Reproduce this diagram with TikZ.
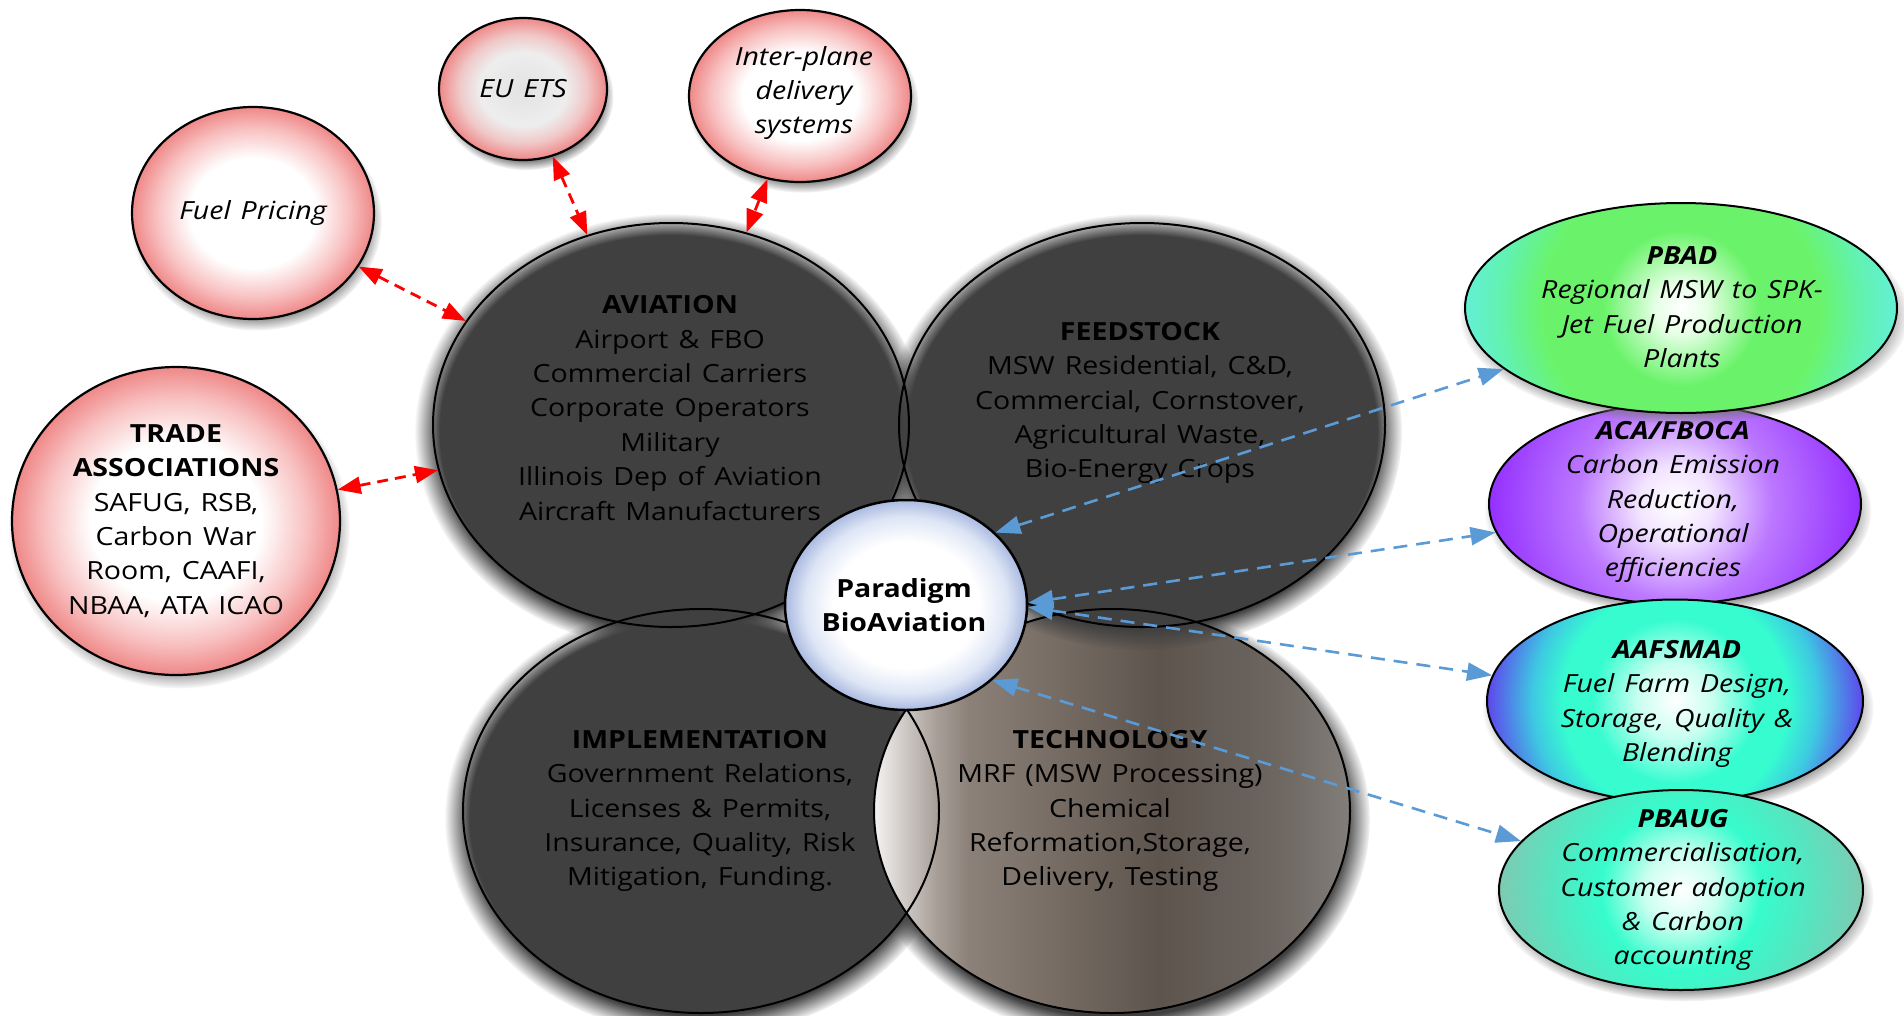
\documentclass[tikz,border=0pt]{standalone}
\usepackage{fontspec}
\setmainfont{Open Sans}[FakeStretch=1.14, WordSpace=1.35]
\usetikzlibrary{shadows,fadings,arrows.meta,shapes.geometric}

\definecolor{gfill}{HTML}{404040}
\definecolor{pinkmid}{HTML}{F8C0C0}
\definecolor{pinkedge}{HTML}{EF8888}
\definecolor{euc}{HTML}{E2E2E2}
\definecolor{eumid}{HTML}{F0C8C8}
\definecolor{parmid}{HTML}{DDE5F5}
\definecolor{paredge}{HTML}{A9B9E0}
\definecolor{grA}{HTML}{E6FFE6}
\definecolor{grB}{HTML}{6AF36A}
\definecolor{grC}{HTML}{62F2B0}
\definecolor{grD}{HTML}{62F0D6}
\definecolor{puA}{HTML}{F2E4FF}
\definecolor{puB}{HTML}{BC78FF}
\definecolor{puC}{HTML}{9430FF}
\definecolor{aqA}{HTML}{C8FFF0}
\definecolor{aqB}{HTML}{36FCD0}
\definecolor{aqC}{HTML}{3EC8E2}
\definecolor{aqD}{HTML}{5E46EC}
\definecolor{tqA}{HTML}{CCFFF0}
\definecolor{tqB}{HTML}{36FCCC}
\definecolor{tqC}{HTML}{52E8C2}
\definecolor{tqD}{HTML}{7ECAB2}
\definecolor{tcA}{HTML}{F4F2F2}
\definecolor{tcB}{HTML}{A89F98}
\definecolor{tcC}{HTML}{8B8179}
\definecolor{tcD}{HTML}{746A62}
\definecolor{tcE}{HTML}{5D544D}
\definecolor{tcF}{HTML}{6C6560}
\definecolor{tcG}{HTML}{827E7A}
\definecolor{bluearr}{HTML}{5B9BD5}
\definecolor{redarr}{HTML}{FF0000}

\pgfdeclareradialshading{pinkball}{\pgfpoint{0bp}{0bp}}{color(0bp)=(white); color(13bp)=(white); color(20bp)=(pinkmid); color(25bp)=(pinkedge); color(50bp)=(pinkedge)}
\pgfdeclareradialshading{euball}{\pgfpoint{0bp}{0bp}}{color(0bp)=(euc); color(13bp)=(euc!60!white); color(19bp)=(eumid); color(25bp)=(pinkedge); color(50bp)=(pinkedge)}
\pgfdeclareradialshading{parball}{\pgfpoint{0bp}{0bp}}{color(0bp)=(white); color(15bp)=(white); color(21bp)=(parmid); color(25bp)=(paredge); color(50bp)=(paredge)}
\pgfdeclareradialshading{greenball}{\pgfpoint{0bp}{0bp}}{color(0bp)=(white); color(3bp)=(grA); color(9bp)=(grB); color(16bp)=(grB); color(21bp)=(grC); color(25bp)=(grD); color(50bp)=(grD)}
\pgfdeclareradialshading{purpleball}{\pgfpoint{0bp}{0bp}}{color(0bp)=(white); color(5bp)=(puA); color(13bp)=(puB); color(25bp)=(puC); color(50bp)=(puC)}
\pgfdeclareradialshading{aafball}{\pgfpoint{0bp}{0bp}}{color(0bp)=(white); color(5bp)=(aqA); color(11bp)=(aqB); color(15bp)=(aqB); color(19bp)=(aqC); color(25bp)=(aqD); color(50bp)=(aqD)}
\pgfdeclareradialshading{pbaugball}{\pgfpoint{0bp}{0bp}}{color(0bp)=(white); color(5bp)=(tqA); color(11bp)=(tqB); color(17bp)=(tqC); color(25bp)=(tqD); color(50bp)=(tqD)}
\pgfdeclarehorizontalshading{techshade}{100bp}{color(0bp)=(tcA); color(25bp)=(tcA); color(31.5bp)=(tcB); color(35bp)=(tcC); color(45bp)=(tcD); color(55bp)=(tcE); color(67bp)=(tcF); color(75bp)=(tcG); color(100bp)=(tcG)}

\newcommand{\bodysize}{\fontsize{25}{34.4}\selectfont}

\begin{document}
\begin{tikzpicture}[x=1pt,y=-1pt,
  bigell/.style={ellipse, draw=black, line width=2pt, minimum width=476pt, minimum height=404pt, inner sep=0pt},
  glow/.style={path fading=circle with fuzzy edge 10 percent},
  softshadow/.style={circular drop shadow={shadow scale=1.04, shadow xshift=3pt, shadow yshift=-7pt, fill=black!55}},
  pinkell/.style={ellipse, draw=black, line width=2.2pt, inner sep=0pt, shading=pinkball, softshadow},
  euell/.style={ellipse, draw=black, line width=2.2pt, inner sep=0pt, shading=euball, softshadow},
  paraell/.style={ellipse, draw=black, line width=2.5pt, inner sep=0pt, shading=parball},
  rightell/.style={ellipse, draw=black, line width=2pt, inner sep=0pt, softshadow, fill=white},
  rshade/.style 2 args={path picture={\shade[shading=#1] (path picture bounding box.center) circle [radius=#2];}},
  txt/.style={align=center, inner sep=0pt, text=black, font=\bodysize},
  itxt/.style={align=center, inner sep=0pt, text=black, font=\bodysize\itshape},
  redline/.style={redarr, line width=2.8pt, dash pattern=on 11pt off 7pt, {Triangle[length=23pt,width=17pt]}-{Triangle[length=23pt,width=17pt]}},
  blueline/.style={bluearr, line width=2.6pt, dash pattern=on 14pt off 9pt, {Triangle[length=25pt,width=18pt]}-{Triangle[length=25pt,width=18pt]}}
]
\fill[white] (0,0) rectangle (1904,1015);
\useasboundingbox (0,0) rectangle (1904,1015);

% soft dark bodies of the four big ellipses
\fill[gfill, glow] (701,818) ellipse [x radius=256pt, y radius=218pt];
\fill[black!75, glow] (1114,820) ellipse [x radius=256pt, y radius=218pt];
\shade[shading=techshade] (1112,811) ellipse [x radius=238pt, y radius=202pt];
\fill[gfill, glow] (1142,432) ellipse [x radius=260pt, y radius=218pt];
\fill[gfill, glow] (671,432) ellipse [x radius=256pt, y radius=218pt];

% outlines
\node[bigell] (avi) at (671,425) {};
\node[bigell, minimum width=486pt] (feed) at (1142,425) {};
\node[bigell] (impl) at (701,811) {};
\node[bigell] (tech) at (1112,811) {};

% texts of the big ellipses
\node[txt] (avitxt) at (670,408) {\textbf{AVIATION}\\Airport \& FBO\\Commercial Carriers\\Corporate Operators\\Military\\Illinois Dep of Aviation\\Aircraft Manufacturers};
\node[txt] (feedtxt) at (1140,403) {\textbf{FEEDSTOCK}\\MSW Residential, C\&D,\\Commercial, Cornstover,\\ Agricultural Waste,\\Bio-Energy Crops};
\node[txt] (impltxt) at (700,811) {\textbf{IMPLEMENTATION}\\Government Relations,\\Licenses \& Permits,\\Insurance, Quality, Risk\\Mitigation, Funding.};
\node[txt] (techtxt) at (1110,811) {\textbf{TECHNOLOGY}\\MRF (MSW Processing)\\Chemical\\Reformation,Storage,\\Delivery, Testing};

% outer pink ellipses
\node[pinkell, minimum width=242pt, minimum height=212pt] (fuel) at (253,213) {};
\node[itxt] (fueltxt) at (253,213) {Fuel Pricing};
\node[euell, minimum width=168pt, minimum height=142pt] (euets) at (523,89) {};
\node[itxt] (eutxt) at (523,89) {EU ETS};
\node[pinkell, minimum width=222pt, minimum height=172pt] (inter) at (800,96) {};
\node[itxt] (intertxt) at (804,93) {Inter-plane\\delivery\\systems};
\node[pinkell, minimum width=328pt, minimum height=308pt] (trade) at (176,521) {};
\node[txt] (tradetxt) at (176,521) {\textbf{TRADE}\\\textbf{ASSOCIATIONS}\\SAFUG, RSB,\\Carbon War\\Room, CAAFI,\\NBAA, ATA ICAO};

% centre
\node[paraell, minimum width=242pt, minimum height=210pt] (para) at (906,605) {};
\node[txt] (paratxt) at (904,605) {\textbf{Paradigm}\\\textbf{BioAviation}};

% right ellipses
\node[rightell, rshade={purpleball}{186pt}, minimum width=372pt, minimum height=200pt] (aca) at (1675,504) {};
\node[itxt] (acatxt) at (1673,502) {\textbf{ACA/FBOCA}\\Carbon Emission\\Reduction,\\Operational\\efficiencies};
\node[rightell, rshade={greenball}{216pt}, minimum width=432pt, minimum height=210pt] (pbad) at (1681,308) {};
\node[itxt] (pbadtxt) at (1682,307) {\textbf{PBAD}\\Regional MSW to SPK-\\Jet Fuel Production\\Plants};
\node[rightell, rshade={aafball}{188pt}, minimum width=376pt, minimum height=203pt] (aaf) at (1675,701) {};
\node[itxt] (aaftxt) at (1677,704) {\textbf{AAFSMAD}\\Fuel Farm Design,\\Storage, Quality \&\\Blending};
\node[rightell, rshade={pbaugball}{182pt}, minimum width=364pt, minimum height=200pt] (pbaug) at (1681,890) {};
\node[itxt] (pbaugtxt) at (1683,890) {\textbf{PBAUG}\\Commercialisation,\\Customer adoption\\\& Carbon\\accounting};

% connectors
\draw[redline] (fuel) -- (avi);
\draw[redline] (euets) -- (avi);
\draw[redline] (inter) -- (avi);
\draw[redline] (trade) -- (avi);
\draw[blueline] (para.39) -- (pbad.199);
\draw[blueline] (para.1) -- (aca.189);
\draw[blueline] (para.-1) -- (aaf.172);
\draw[blueline] (para.-41) -- (pbaug.163);
\end{tikzpicture}
\end{document}
